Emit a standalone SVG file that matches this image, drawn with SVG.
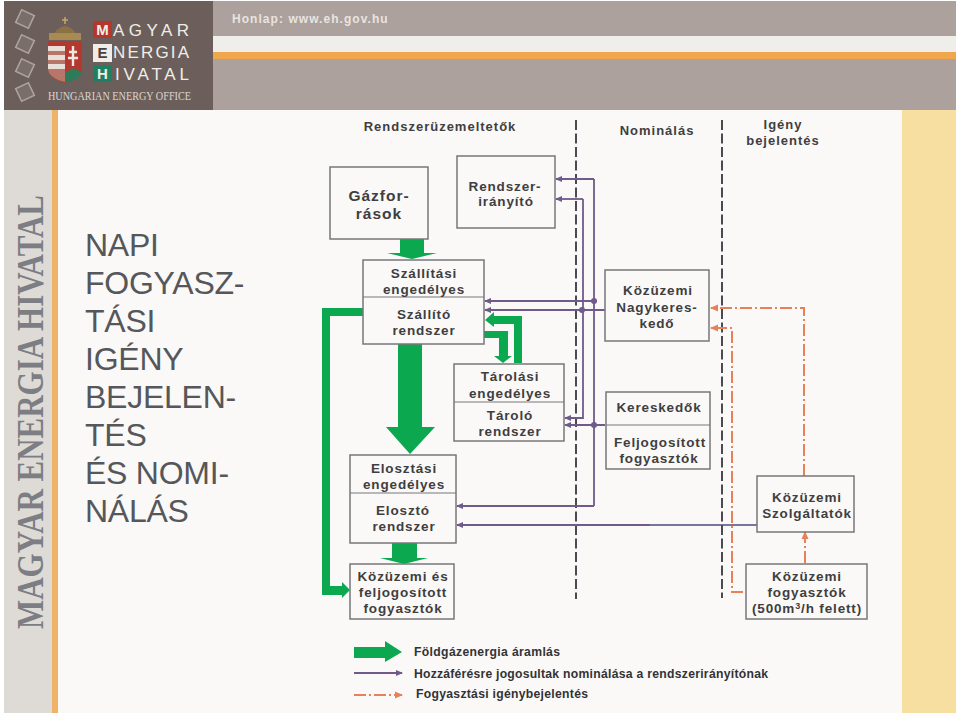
<svg xmlns="http://www.w3.org/2000/svg" width="960" height="716" viewBox="0 0 960 716">
<defs>
<style>
text{font-family:"Liberation Sans",Arial,sans-serif;fill:#2b2a2c}
.n{font-size:13.5px;font-weight:bold;text-anchor:middle;letter-spacing:.85px;fill:#3f3e40}
.h{font-size:13px;font-weight:bold;text-anchor:middle;letter-spacing:1px;fill:#3f3e40}
.b{fill:none;stroke:#77777a;stroke-width:1.5}
.sep{stroke:#77777a;stroke-width:1.2}
.g{fill:#0ba850}
.p{fill:none;stroke:#6f5a8a;stroke-width:1.8}
.o{fill:none;stroke:#e8805a;stroke-width:2;stroke-dasharray:12 3 2 3}
.d{fill:none;stroke:#4a4a50;stroke-width:2;stroke-dasharray:10 3.5}
.big{font-size:32px;fill:#55575a;letter-spacing:-.25px}
.l{font-size:12.2px;font-weight:bold;fill:#333234}
.w{font-size:17px;fill:#f0ede8}
.lb{font-size:15px;font-weight:bold;text-anchor:middle}
</style>
<marker id="ap" markerWidth="7" markerHeight="7" refX="6" refY="3.5" orient="auto" markerUnits="userSpaceOnUse"><path d="M0 .5L7 3.5L0 6.5z" fill="#6f5a8a"/></marker>
<marker id="ao" markerWidth="8" markerHeight="8" refX="7" refY="4" orient="auto" markerUnits="userSpaceOnUse"><path d="M0 .5L8 4L0 7.5z" fill="#e8805a"/></marker>
</defs>
<rect width="960" height="716" fill="#ffffff"/>
<g id="background">
<rect x="4" y="1" width="952" height="109" fill="#aca19d"/>
<rect x="213" y="36" width="743" height="16" fill="#efeeeb"/>
<rect x="213" y="52" width="743" height="7" fill="#efa64d"/>
<rect x="4" y="1" width="209" height="109" fill="#6c5f5b"/>
<rect x="58" y="110" width="844" height="603" fill="#faf9f8"/>
<rect x="4" y="110" width="48" height="603" fill="#dedbd7"/>
<rect x="52" y="110" width="6" height="603" fill="#eeb269"/>
<rect x="902" y="110" width="54" height="603" fill="#f6dfa0"/>
<g fill="#7a6e6a" stroke="#aca29e" stroke-width="1.6">
<rect x="18" y="12" width="14" height="14" transform="rotate(25 25 19)"/>
<rect x="18" y="37" width="14" height="14" transform="rotate(25 25 44)"/>
<rect x="18" y="61" width="14" height="14" transform="rotate(25 25 68)"/>
<rect x="18" y="85" width="14" height="14" transform="rotate(-25 25 92)"/>
</g>
<path d="M50 40Q65 12 80 40Z" fill="#8a7246"/>
<path d="M62 20H68M65 17V24" stroke="#c4a868" stroke-width="1.5"/>
<path d="M49 33H81V40H49Z" fill="#a88a52"/>
<path d="M48 41H82V68Q82 78 65 83Q48 78 48 68Z" fill="#b5382f"/>
<path d="M48 46H65V82Q48 78 48 68Z" fill="#b8766a"/>
<rect x="48" y="46" width="17" height="5" fill="#e8e0d8"/><rect x="48" y="55" width="17" height="5" fill="#e8e0d8"/><rect x="48" y="64" width="17" height="5" fill="#e8e0d8"/>
<path d="M73 46V66M69 52H77M68 58H78" stroke="#f0e8e0" stroke-width="2.4" fill="none"/>
<path d="M65 83V73L73 68L82 72Q80 80 65 83Z" fill="#2f7a58"/>
<rect x="93" y="21" width="19" height="17" fill="#b8352b"/><rect x="93" y="44" width="19" height="18" fill="#f0ede8"/><rect x="93" y="65" width="19" height="17" fill="#1e7f63"/>
<text class="lb" x="102.5" y="35" style="fill:#f0ede8">M</text><text class="lb" x="102.5" y="58" style="fill:#4a403c">E</text><text class="lb" x="102.5" y="79" style="fill:#f0ede8">H</text>
<text class="w" x="113" y="36" textLength="76">AGYAR</text>
<text class="w" x="113" y="58" textLength="76">NERGIA</text>
<text class="w" x="115" y="80" textLength="74">IVATAL</text>
<text x="48" y="100" textLength="143" lengthAdjust="spacingAndGlyphs" style="font-family:'Liberation Serif',serif;font-size:13px;fill:#dcd6d0">HUNGARIAN ENERGY OFFICE</text>
<text x="232" y="23" style="font-size:12px;font-weight:bold;fill:#e8e4e0;letter-spacing:1.05px">Honlap: www.eh.gov.hu</text>
<text transform="translate(43 629) rotate(-90)" textLength="434" lengthAdjust="spacingAndGlyphs" style="font-family:'Liberation Serif',serif;font-size:37px;font-weight:bold;fill:#7c7e84">MAGYAR ENERGIA HIVATAL</text>
<text class="big" x="85" y="256">NAPI</text>
<text class="big" x="85" y="294">FOGYASZ-</text>
<text class="big" x="85" y="332">TÁSI</text>
<text class="big" x="85" y="370">IGÉNY</text>
<text class="big" x="85" y="408">BEJELEN-</text>
<text class="big" x="85" y="446">TÉS</text>
<text class="big" x="85" y="484">ÉS NOMI-</text>
<text class="big" x="85" y="522">NÁLÁS</text>
<text class="h" x="440" y="131">Rendszerüzemeltetők</text>
<text class="h" x="657" y="135">Nominálás</text>
<text class="h" x="783" y="129">Igény</text>
<text class="h" x="783" y="145">bejelentés</text>
</g>
<g id="connectors">
<path class="d" d="M576 120V599"/>
<path class="d" d="M722 120V598"/>
<g id="green">
<path class="g" d="M400 239H424V253H437L412 259L387 253H400Z"/>
<path class="g" d="M398 344H422V427H435L410 454L386 427H398Z"/>
<path class="g" d="M392 543H417V558H428L404 564L380 558H392Z"/>
<path class="g" d="M363 308V316H330V586H342V582L350 590L342 598V595H322V308Z"/>
<path class="g" d="M485 320L494 312V316H522V363H514V324H494V327Z"/>
<path class="g" d="M484 331H508V356H512L503 363L494 356H499V338H484Z"/>
</g>
<path class="p" marker-end="url(#ap)" d="M594 301H485"/>
<path class="p" marker-end="url(#ap)" d="M605 310H485"/>
<path class="p" marker-end="url(#ap)" d="M594 179H556"/>
<path class="p" marker-end="url(#ap)" d="M583 199H556"/>
<path class="p" d="M594 179V506"/>
<path class="p" marker-end="url(#ap)" d="M583 199V418H565"/>
<path class="p" marker-end="url(#ap)" d="M605 425H565"/>
<path class="p" marker-end="url(#ap)" d="M594 506H457"/>
<path class="p" marker-end="url(#ap)" d="M650 525H457"/>
<path class="p" style="stroke:#4c4a7c;stroke-width:1.5" d="M757 525H650"/>
<circle cx="594" cy="301" r="3" fill="#6f5a8a"/><circle cx="582" cy="310" r="3" fill="#6f5a8a"/><circle cx="594" cy="425" r="3" fill="#6f5a8a"/>
<path class="o" marker-end="url(#ao)" d="M804 476V308H711"/>
<path class="o" marker-end="url(#ao)" d="M743 592H732V328H711"/>
<path class="o" marker-end="url(#ao)" d="M805 563V532"/>
</g>
<g id="gazforrasok"><rect class="b" x="330" y="167" width="98" height="72"/><text class="n" x="379" y="201" style="font-size:15.5px;letter-spacing:1px">Gázfor-</text><text class="n" x="379" y="219" style="font-size:15.5px;letter-spacing:1px">rások</text></g>
<g id="rendszeriranyito"><rect class="b" x="457" y="156" width="98" height="72"/><text class="n" x="505" y="191">Rendszer-</text><text class="n" x="506" y="206">irányító</text></g>
<g id="szallito"><rect class="b" x="363" y="260" width="121" height="84"/><path class="sep" d="M363 297H484"/><text class="n" x="424" y="278">Szállítási</text><text class="n" x="424" y="294">engedélyes</text><text class="n" x="424" y="319">Szállító</text><text class="n" x="424" y="335">rendszer</text></g>
<g id="tarolo"><rect class="b" x="454" y="364" width="110" height="77"/><path class="sep" d="M454 402H564"/><text class="n" x="510" y="381">Tárolási</text><text class="n" x="510" y="398">engedélyes</text><text class="n" x="510" y="420">Tároló</text><text class="n" x="510" y="436">rendszer</text></g>
<g id="eloszto"><rect class="b" x="350" y="455" width="106" height="88"/><path class="sep" d="M350 493H456"/><text class="n" x="404" y="473">Elosztási</text><text class="n" x="404" y="489">engedélyes</text><text class="n" x="403" y="515">Elosztó</text><text class="n" x="404" y="531">rendszer</text></g>
<g id="feljogositott"><rect class="b" x="350" y="564" width="104" height="55"/><text class="n" x="403" y="581">Közüzemi és</text><text class="n" x="403" y="597">feljogosított</text><text class="n" x="403" y="613">fogyasztók</text></g>
<g id="nagykereskedo"><rect class="b" x="605" y="270" width="104" height="71"/><text class="n" x="658" y="295">Közüzemi</text><text class="n" x="657" y="312">Nagykeres-</text><text class="n" x="657" y="328">kedő</text></g>
<g id="kereskedok"><rect class="b" x="606" y="392" width="104" height="77"/><path class="sep" d="M606 425H710"/><text class="n" x="659" y="412">Kereskedők</text><text class="n" x="660" y="447">Feljogosított</text><text class="n" x="659" y="463">fogyasztók</text></g>
<g id="szolgaltatok"><rect class="b" x="757" y="476" width="97" height="56"/><text class="n" x="807" y="502">Közüzemi</text><text class="n" x="807" y="518">Szolgáltatók</text></g>
<g id="kozuzemi"><rect class="b" x="746" y="564" width="121" height="55"/><text class="n" x="807" y="581">Közüzemi</text><text class="n" x="807" y="597">fogyasztók</text><text class="n" x="807" y="613">(500m<tspan dy="-4" font-size="9">3</tspan><tspan dy="4">/h felett)</tspan></text></g>
<g id="legend">
<path class="g" d="M354 647H385V641L402 652L385 662V658H354Z"/>
<path class="p" marker-end="url(#ap)" d="M354 673H402"/>
<path class="o" marker-end="url(#ao)" d="M354 695H402"/>
<text class="l" x="414" y="656" textLength="146">Földgázenergia áramlás</text>
<text class="l" x="414" y="678" textLength="145">Hozzáférésre jogosultak</text><text class="l" x="563" y="678" textLength="205">nominálása a rendszerirányítónak</text>
<text class="l" x="416" y="698" textLength="172">Fogyasztási igénybejelentés</text>
</g>
</svg>
